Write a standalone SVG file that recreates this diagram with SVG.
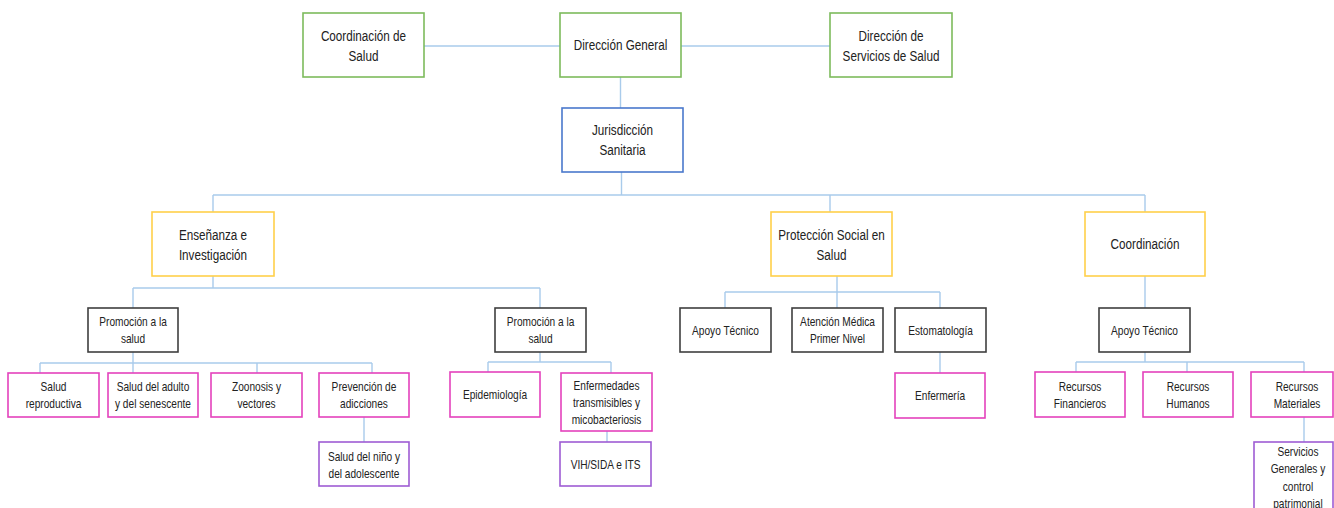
<svg xmlns="http://www.w3.org/2000/svg" width="1334" height="508" viewBox="0 0 1334 508">
<style>
rect{fill:#ffffff;stroke-width:1.6}
.g{stroke:#7DBB5C}
.b{stroke:#4A78CC}
.y{stroke:#FFD04A}
.k{stroke:#3F3F3F}
.m{stroke:#E442BC}
.p{stroke:#9E5CD4}
text{font-family:"Liberation Sans",Arial,sans-serif;fill:#222222;text-anchor:middle;transform:scaleX(0.78);transform-box:fill-box;transform-origin:center}
.L{font-size:15px}
.S{font-size:13px}
#connectors path{fill:none;stroke:#A9CBEB;stroke-width:1.4}
</style>
<g id="connectors">
<path d="M424 46H560M681 46H830M620.5 77V108"/>
<path d="M621.5 172V195M213 195H1145M213 195V212M830 195V212M1145 195V212"/>
<path d="M213 276V288M133 288H540M133 288V308M540 288V308"/>
<path d="M837 276V308M725 292H940M725 292V308M940 292V308"/>
<path d="M1145 276V308"/>
<path d="M133 352V363M40 363H372M40 363V373M133 363V373M257 363V373M372 363V373M364 417V442"/>
<path d="M540 352V362M488 362H611M488 362V372M611 362V373M607 431V442"/>
<path d="M940 352V373"/>
<path d="M1145 352V362M1076 362H1304M1076 362V372M1187 362V372M1304 362V372M1304 417V442"/>
</g>
<g id="n1"><rect class="g" x="303" y="13" width="121" height="64"/><text class="L" x="363.5" y="41">Coordinación de</text><text class="L" x="363.5" y="61">Salud</text></g>
<g id="n2"><rect class="g" x="560" y="13" width="121" height="64"/><text class="L" x="620.5" y="50.5">Dirección General</text></g>
<g id="n3"><rect class="g" x="830" y="13" width="122" height="64"/><text class="L" x="891" y="41">Dirección de</text><text class="L" x="891" y="61">Servicios de Salud</text></g>
<g id="n4"><rect class="b" x="562" y="108" width="121" height="64"/><text class="L" x="622.5" y="135">Jurisdicción</text><text class="L" x="622.5" y="155">Sanitaria</text></g>
<g id="n5"><rect class="y" x="152" y="212" width="122" height="64"/><text class="L" x="213" y="240">Enseñanza e</text><text class="L" x="213" y="260">Investigación</text></g>
<g id="n6"><rect class="y" x="771" y="212" width="121" height="64"/><text class="L" x="831.5" y="240">Protección Social en</text><text class="L" x="831.5" y="260">Salud</text></g>
<g id="n7"><rect class="y" x="1085" y="212" width="120" height="64"/><text class="L" x="1145" y="249.5">Coordinación</text></g>
<g id="n8"><rect class="k" x="88" y="308" width="90" height="44"/><text class="S" x="133" y="326">Promoción a la</text><text class="S" x="133" y="343">salud</text></g>
<g id="n9"><rect class="k" x="495" y="308" width="91" height="44"/><text class="S" x="540.5" y="326">Promoción a la</text><text class="S" x="540.5" y="343">salud</text></g>
<g id="n10"><rect class="k" x="680" y="308" width="91" height="44"/><text class="S" x="725.5" y="335">Apoyo Técnico</text></g>
<g id="n11"><rect class="k" x="792" y="308" width="91" height="44"/><text class="S" x="837.5" y="326">Atención Médica</text><text class="S" x="837.5" y="343">Primer Nivel</text></g>
<g id="n12"><rect class="k" x="895" y="308" width="91" height="44"/><text class="S" x="940.5" y="335">Estomatología</text></g>
<g id="n13"><rect class="k" x="1099" y="308" width="91" height="44"/><text class="S" x="1144.5" y="335">Apoyo Técnico</text></g>
<g id="n14"><rect class="m" x="8" y="373" width="91" height="44"/><text class="S" x="53.5" y="391">Salud</text><text class="S" x="53.5" y="408.5">reproductiva</text></g>
<g id="n15"><rect class="m" x="108" y="373" width="90" height="44"/><text class="S" x="153" y="391">Salud del adulto</text><text class="S" x="153" y="408.5">y del senescente</text></g>
<g id="n16"><rect class="m" x="211" y="373" width="91" height="44"/><text class="S" x="256.5" y="391">Zoonosis y</text><text class="S" x="256.5" y="408.5">vectores</text></g>
<g id="n17"><rect class="m" x="319" y="373" width="90" height="44"/><text class="S" x="364" y="391">Prevención de</text><text class="S" x="364" y="408.5">adicciones</text></g>
<g id="n18"><rect class="m" x="450" y="372" width="90" height="45"/><text class="S" x="495" y="399.5">Epidemiología</text></g>
<g id="n19"><rect class="m" x="561" y="373" width="91" height="58"/><text class="S" x="606.5" y="390">Enfermedades</text><text class="S" x="606.5" y="407">transmisibles y</text><text class="S" x="606.5" y="424">micobacteriosis</text></g>
<g id="n20"><rect class="m" x="895" y="373" width="90" height="45"/><text class="S" x="940" y="400">Enfermería</text></g>
<g id="n21"><rect class="m" x="1035" y="372" width="90" height="45"/><text class="S" x="1080" y="391">Recursos</text><text class="S" x="1080" y="408">Financieros</text></g>
<g id="n22"><rect class="m" x="1143" y="372" width="90" height="45"/><text class="S" x="1188" y="391">Recursos</text><text class="S" x="1188" y="408">Humanos</text></g>
<g id="n23"><rect class="m" x="1251" y="372" width="82" height="45"/><text class="S" x="1297" y="391">Recursos</text><text class="S" x="1297" y="408">Materiales</text></g>
<g id="n24"><rect class="p" x="319" y="442" width="90" height="44"/><text class="S" x="364" y="461">Salud del niño y</text><text class="S" x="364" y="478">del adolescente</text></g>
<g id="n25"><rect class="p" x="560" y="442" width="91" height="44"/><text class="S" x="605.5" y="469">VIH/SIDA e ITS</text></g>
<g id="n26"><rect class="p" x="1254" y="442" width="79" height="80"/><text class="S" x="1298" y="456">Servicios</text><text class="S" x="1298" y="473">Generales y</text><text class="S" x="1298" y="491">control</text><text class="S" x="1298" y="508">patrimonial</text></g>
</svg>
